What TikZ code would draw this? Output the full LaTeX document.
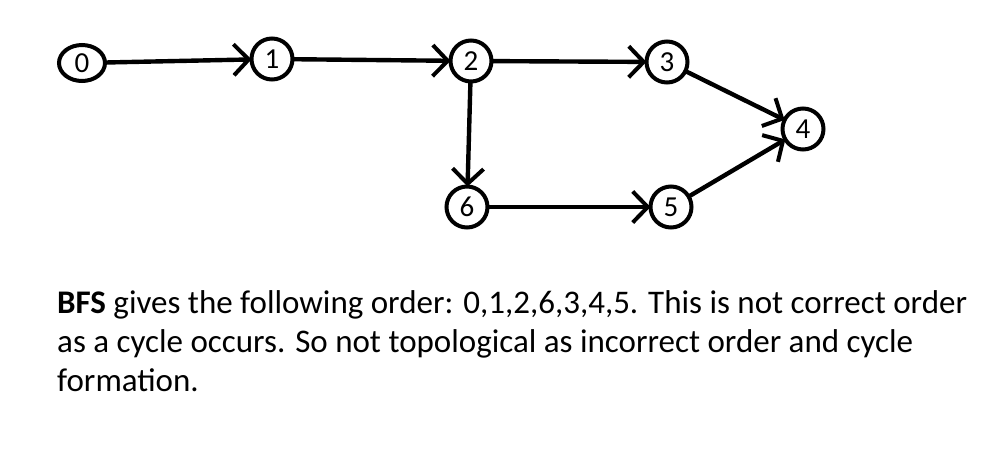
\documentclass[tikz,border=0pt]{standalone}
\usepackage{fontspec}
\setmainfont{Carlito}
\usetikzlibrary{arrows.meta,shapes.geometric}
\begin{document}
\begin{tikzpicture}[x=1pt,y=-1pt,
  vert/.style={circle,draw,line width=4pt,minimum size=41pt,inner sep=0pt,outer sep=0pt,font=\fontsize{29}{33}\selectfont},
  arc/.style={line width=4.4pt,-{Straight Barb[length=15pt,width=31pt,line width=4pt]}}]
\useasboundingbox (0,0) rectangle (1001,458);
\node[vert,ellipse,minimum width=46pt,minimum height=36pt] (n0) at (82,63) {0};
\node[vert] (n1) at (272,59) {1};
\node[vert] (n2) at (471,61) {2};
\node[vert] (n3) at (667,62) {3};
\node[vert] (n4) at (803,129) {4};
\node[vert] (n6) at (467,207) {6};
\node[vert] (n5) at (671,207) {5};
\draw[arc] (n0) -- (n1);
\draw[arc] (n1) -- (n2);
\draw[arc] (n2) -- (n3);
\draw[arc] (n3) -- (n4);
\draw[arc] (n2) -- (n6);
\draw[arc] (n6) -- (n5);
\draw[arc] (n5) -- (n4);
\node[anchor=base west,align=left,inner sep=0pt,font=\fontsize{33}{39}\selectfont] (txt) at (57,391)
{\textbf{BFS} gives the following order: 0,1,2,6,3,4,5. This is not correct order\\
as a cycle occurs. So not topological as incorrect order and cycle\\
formation.};
\end{tikzpicture}
\end{document}
